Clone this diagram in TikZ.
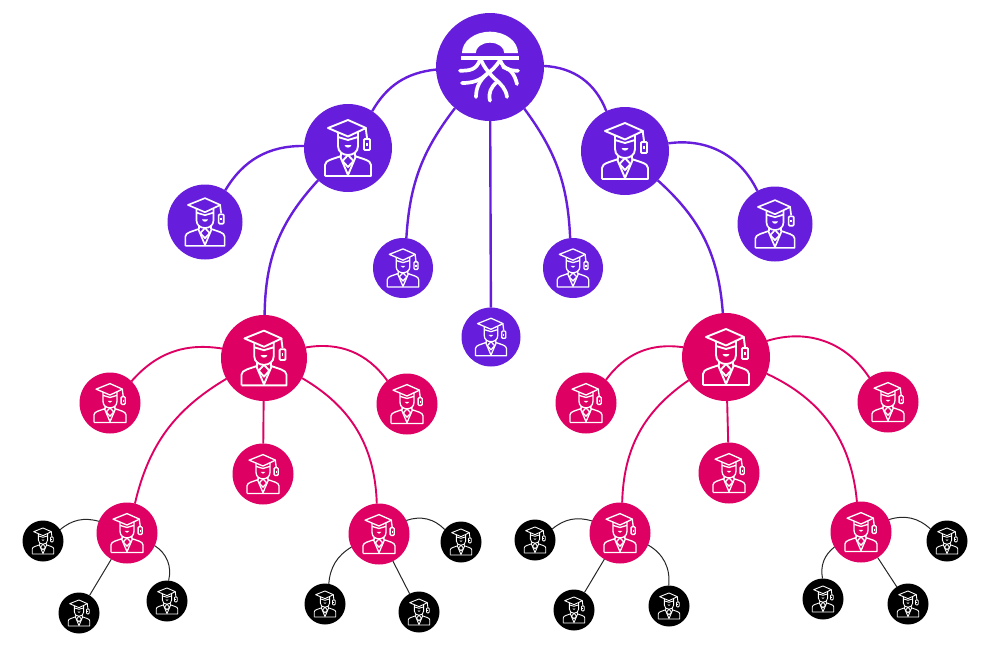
\documentclass[tikz,border=0pt]{standalone}
\usepackage{xcolor}
\definecolor{rootviolet}{HTML}{671EDC}
\definecolor{mentorpink}{HTML}{DE0063}
\tikzset{
  vnode/.style={circle, fill=rootviolet, inner sep=0pt, outer sep=0pt},
  pnode/.style={circle, fill=mentorpink, inner sep=0pt, outer sep=0pt},
  knode/.style={circle, fill=black, inner sep=0pt, outer sep=0pt},
  vlink/.style={draw=rootviolet, line width=2.4pt},
  plink/.style={draw=mentorpink, line width=1.9pt},
  klink/.style={draw=black!85, line width=1pt},
  gradicon/.pic={
    \draw[draw=white, line join=round] (0,28) -- (-20,20) -- (0,11.5) -- (18,20) -- cycle;
    \draw[draw=white, line join=round] (-10,16) -- (-10,2) .. controls (-10,-4) and (-5,-7) .. (0,-7) .. controls (5,-7) and (10,-4) .. (10,2) -- (10,16);
    \draw[draw=white] (-10,11) -- (0,8) -- (10,11);
    \fill[white] (-3.5,3) -- (3.5,3) .. controls (2.5,-0.5) and (-2.5,-0.5) .. (-3.5,3) -- cycle;
    \draw[draw=white, line join=round] (-23,-28) -- (23,-28) -- (23,-17) .. controls (23,-12) and (14,-11) .. (7,-8) -- (7,-4);
    \draw[draw=white, line join=round] (-23,-28) -- (-23,-17) .. controls (-23,-12) and (-14,-11) .. (-7,-8) -- (-7,-4);
    \draw[draw=white, line join=round] (-8,-8) -- (0,-27) -- (8,-8);
    \draw[draw=white, line join=round] (0,-7) -- (-5.5,-13) -- (0,-19) -- (5.5,-13) -- cycle;
    \draw[draw=white] (17.7,20) -- (19,10);
    \draw[draw=white, rounded corners=1pt] (16,9) rectangle (22,-2);
    \draw[draw=white] (19,5) -- (19,2);
  },
  rootlogo/.pic={
    \fill[white] (-28,14) arc[start angle=180, end angle=0, x radius=28, y radius=21.3] -- (14.3,14) arc[start angle=0, end angle=180, x radius=14.3, y radius=10.3] -- cycle;
    \draw[draw=white, line width=4pt] (-29,9.3) -- (29,9.3);
    \begin{scope}[draw=white, line width=3.7pt, line cap=round]
      \draw (-30,-3.7) .. controls (-20,-3.7) and (-14,-3) .. (-10,7);
      \draw (28,-3.7) .. controls (20,-3.7) and (14,-3) .. (10,7);
      \draw (-9,7) .. controls (-5,-2) and (0,-7) .. (5,-12) .. controls (11,-17) and (16,-22) .. (17,-30);
      \draw (10,7) .. controls (6,0) and (1,-4) .. (-3,-7) .. controls (-10,-13) and (-14,-20) .. (-14,-30);
      \draw (-28,-16) .. controls (-18,-16) and (-10,-14) .. (-2,-6);
      \draw (13,0) .. controls (20,-1) and (25,-8) .. (27,-17);
      \draw (0,-33.7) .. controls (-2,-26) and (1,-20) .. (7,-15);
    \end{scope}
  }
}
% #1 style, #2 name, #3 position, #4 radius
\newcommand{\fgrad}[4]{\node[#1, minimum size=2*#4 pt] (#2) at (#3) {}; \pic[scale=#4/44, line width=#4/44*1.9pt] at (#2) {gradicon};}
\begin{document}
\begin{tikzpicture}[x=1pt,y=1pt]
\useasboundingbox (0,0) rectangle (988,-665);
% violet level
\node[vnode, minimum size=108pt] (root) at (490,-67) {};
\pic at (root) {rootlogo};
\fgrad{vnode}{advl}{348,-148}{44}
\fgrad{vnode}{advr}{625,-151}{44}
\fgrad{vnode}{vfarl}{205,-222}{37.5}
\fgrad{vnode}{vfarr}{775,-224}{37.5}
\fgrad{vnode}{vinl}{403,-268}{30}
\fgrad{vnode}{vinr}{573,-268}{30}
\fgrad{vnode}{vmid}{491,-337}{29.5}
% pink level
\fgrad{pnode}{leadl}{264,-358}{43}
\fgrad{pnode}{leadr}{726,-357}{44}
\fgrad{pnode}{pa}{110,-403}{30.5}
\fgrad{pnode}{pb}{407,-404}{30.5}
\fgrad{pnode}{pc}{263,-474}{30.5}
\fgrad{pnode}{pd}{586,-403}{30.5}
\fgrad{pnode}{pe}{888,-402}{30.5}
\fgrad{pnode}{pf}{729,-473}{30.5}
\fgrad{pnode}{subl}{127,-533}{30.5}
\fgrad{pnode}{subm}{379,-534}{30.5}
\fgrad{pnode}{subn}{620,-533}{30.5}
\fgrad{pnode}{subr}{861,-532}{30.5}
% black level
\fgrad{knode}{ka}{43,-541}{20.5}
\fgrad{knode}{kb}{79,-613}{20.5}
\fgrad{knode}{kc}{167,-601}{20.5}
\fgrad{knode}{kd}{461,-542}{20.5}
\fgrad{knode}{ke}{325,-604}{20.5}
\fgrad{knode}{kf}{419,-612}{20.5}
\fgrad{knode}{kg}{535,-540}{20.5}
\fgrad{knode}{kh}{574,-610}{20.5}
\fgrad{knode}{ki}{669,-606}{20.5}
\fgrad{knode}{kj}{947,-541}{20.5}
\fgrad{knode}{kk}{823,-599}{20.5}
\fgrad{knode}{kl}{908,-604}{20.5}
% violet links
\draw[vlink] (root) to[bend right=27] (advl);
\draw[vlink] (root) to[bend right=17] (vinl);
\draw[vlink] (root) -- (vmid);
\draw[vlink] (root) to[bend left=17] (vinr);
\draw[vlink] (root) to[bend left=33] (advr);
\draw[vlink] (advl) to[bend right=30] (vfarl);
\draw[vlink] (advl) to[bend right=21] (leadl);
\draw[vlink] (advr) to[bend left=36] (vfarr);
\draw[vlink] (advr) to[bend left=22] (leadr);
% pink links
\draw[plink] (leadl) to[bend right=29] (pa);
\draw[plink] (leadl) to[bend left=32] (pb);
\draw[plink] (leadl) -- (pc);
\draw[plink] (leadl) to[bend right=23] (subl);
\draw[plink] (leadl) to[bend left=29] (subm);
\draw[plink] (leadr) to[bend right=31] (pd);
\draw[plink] (leadr) to[bend left=37] (pe);
\draw[plink] (leadr) -- (pf);
\draw[plink] (leadr) to[bend right=27] (subn);
\draw[plink] (leadr) to[bend left=30] (subr);
% black links
\draw[klink] (subl) to[bend right=28] (ka);
\draw[klink] (subl) -- (kb);
\draw[klink] (subl) to[bend left=35] (kc);
\draw[klink] (subm) to[bend left=32] (kd);
\draw[klink] (subm) to[bend right=27] (ke);
\draw[klink] (subm) -- (kf);
\draw[klink] (subn) to[bend right=28] (kg);
\draw[klink] (subn) -- (kh);
\draw[klink] (subn) to[bend left=33] (ki);
\draw[klink] (subr) to[bend left=30] (kj);
\draw[klink] (subr) to[bend right=31] (kk);
\draw[klink] (subr) -- (kl);
\end{tikzpicture}
\end{document}
